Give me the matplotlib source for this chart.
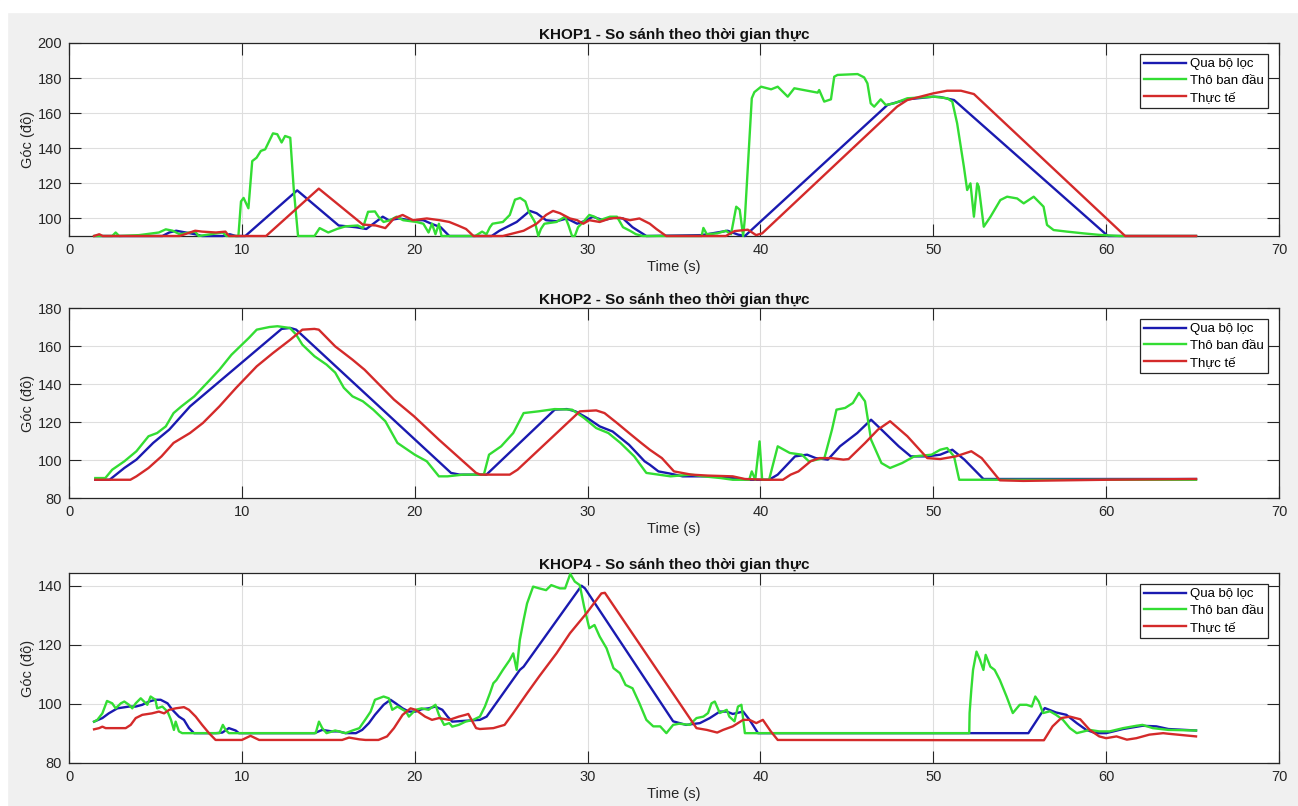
import matplotlib
matplotlib.use("Agg")
import matplotlib.pyplot as plt
from matplotlib.patches import Rectangle

plt.rcParams['font.family'] = ['Liberation Sans', 'DejaVu Sans']

BLUE = '#1a1ab0'
GREEN = '#33dd33'
RED = '#d42a2a'
LABELS = ["Qua bộ lọc", "Thô ban đầu", "Thực tế"]

# ---------------- KHOP1 ----------------
k1_blue_t = [1.5, 5.4, 5.8, 6.2, 6.75, 7.3, 7.7, 8.9, 9.3, 9.65, 10.2, 13.2, 15.6, 16.6, 17.2, 18.15, 18.5,
             19.1, 19.7, 20.5, 20.96, 21.5, 22.0, 24.45, 24.9, 25.9, 26.66, 27.05, 27.6, 28.2, 28.8, 29.4,
             29.95, 30.3, 30.9, 31.5, 32.05, 32.6, 33.4, 36.6, 38.1, 38.7, 39.1, 47.35, 48.5, 50.0, 50.4,
             51.2, 60.1, 65.2]
k1_blue_v = [90, 90, 92, 93, 92, 91, 90, 90, 91, 90, 90, 116, 96, 95, 94, 101, 99,
             100, 99, 99, 97, 95, 90, 90, 93, 98, 104.3, 103, 99, 98.4, 100, 97,
             99, 101, 99, 100.4, 100, 95, 90, 90.5, 93, 90.8, 90, 164.7, 167.9, 169.4, 169.2,
             167.5, 90, 90]

k1_green_t = [1.45, 2.5, 2.7, 2.9, 4.05, 5.2, 5.6, 6.0, 6.4, 7.3, 7.5, 8.9, 9.1, 9.8, 9.95, 10.1, 10.38,
              10.6, 10.85, 11.1, 11.35, 11.58, 11.8, 12.05, 12.3, 12.5, 12.8, 13.0, 13.25, 14.2, 14.5,
              15.0, 15.5, 16.0, 16.7, 17.0, 17.3, 17.7, 17.9, 18.2, 18.57, 18.95, 19.33, 20.1, 20.5,
              20.8, 21.0, 21.2, 21.4, 21.55, 23.5, 23.9, 24.15, 24.35, 24.5, 25.1, 25.5, 25.8, 26.1,
              26.4, 26.6, 26.95, 27.15, 27.3, 27.5, 28.2, 28.7, 28.9, 29.1, 29.26, 29.45, 29.75, 30.1,
              30.4, 30.7, 31.3, 31.7, 32.05, 32.45, 32.8, 33.2, 36.6, 36.7, 36.9, 37.5, 38.0, 38.3,
              38.6, 38.8, 39.0, 39.1, 39.5, 39.65, 40.04, 40.62, 41.0, 41.58, 41.96, 42.73, 43.31,
              43.4, 43.69, 44.08, 44.27, 44.46, 45.62, 46.0, 46.19, 46.38, 46.58, 46.96, 47.25, 47.73,
              48.5, 50.04, 50.8, 51.1, 51.38, 51.77, 51.96, 52.15, 52.35, 52.54, 52.63, 52.92, 53.31,
              53.88, 54.27, 54.85, 55.23, 55.81, 56.38, 56.58, 56.96, 57.73, 58.69, 59.65, 60.8, 65.2]
k1_green_v = [90, 90, 92, 90, 90.5, 92, 93.8, 93, 91, 92.5, 90, 92, 90, 90, 109.7, 111.7, 105.8,
              132.7, 134.6, 138.5, 139.4, 144, 148.5, 148, 143.3, 147, 146, 117, 90, 90, 94.5,
              92, 94, 95.5, 96, 94.5, 103.8, 104, 101, 98, 99, 101, 99, 98, 97,
              92, 97, 91, 97, 90, 90, 92.5, 91, 95, 97, 98, 102, 110.7, 111.7,
              109.7, 103.9, 98, 90, 94, 97, 98, 101, 96, 90, 90, 95, 98, 102,
              101, 99, 101, 101, 95, 93, 91, 90, 90, 94.6, 91, 91.5, 93, 91,
              106.7, 105, 90, 100, 168.5, 172, 175.1, 173.6, 175.1, 169.4, 174.2, 172.8, 171.7,
              173.2, 166.6, 167.9, 180.8, 181.8, 182.3, 180.4, 177, 165.6, 163.7, 167.9, 164.7, 165.6,
              168.5, 169.4, 168.5, 166.6, 154.2, 129.5, 116.2, 120, 101, 120, 118.1, 95.3, 101,
              110.5, 112.4, 111.4, 108.6, 112.4, 106.7, 96.3, 93.4, 92.5, 91.5, 90.6, 90, 90]

k1_red_t = [1.45, 1.75, 1.95, 6.4, 7.3, 7.7, 8.5, 9.05, 9.25, 11.4, 14.45, 17.0, 17.75, 18.3, 18.8, 19.3,
            19.9, 20.7, 21.45, 22.0, 22.5, 22.97, 23.4, 25.1, 26.3, 27.05, 27.6, 28.0, 28.4, 28.98, 29.4,
            29.75, 30.1, 30.7, 31.3, 31.87, 32.45, 33.0, 33.6, 33.98, 34.55, 38.0, 38.5, 39.27, 39.75,
            40.1, 47.9, 48.5, 50.0, 50.8, 51.6, 52.35, 61.1, 65.2]
k1_red_v = [90, 91, 90, 90, 93, 92.5, 92, 92.5, 90, 90, 117, 96.5, 96, 94.5, 100, 102,
            99, 100, 99, 98, 96, 94, 90, 90, 93, 97, 102, 104.3, 103, 100, 99,
            97, 99, 98, 100, 100.4, 99, 100, 97, 94, 90, 90, 92.8, 93.6, 90.5,
            91.5, 163.7, 167.5, 171.3, 172.8, 172.8, 170.9, 90, 90]

# ---------------- KHOP2 ----------------
k2_blue_t = [1.52, 2.35, 3.2, 3.9, 4.87, 5.8, 7.0, 12.3, 12.8, 13.14, 22.1, 22.6, 24.15, 28.1, 28.8, 29.3,
             30.0, 30.7, 31.45, 32.4, 33.3, 33.6, 34.1, 34.8, 35.5, 37.4, 38.4, 39.35, 40.5, 41.0, 42.0,
             42.7, 43.2, 43.9, 44.6, 45.6, 46.4, 47.0, 48.0, 48.7, 49.65, 50.4, 51.1, 51.8, 52.9, 65.2]
k2_blue_v = [89.6, 89.6, 95.8, 100.2, 109, 116, 128.2, 169, 169.5, 168.6, 93.2, 92.3, 92.3, 126.5, 126.8, 125.6,
             122, 117.7, 115, 108, 99.3, 97.5, 94, 92.8, 91.4, 91.4, 90.5, 89.6, 89.6, 92.3, 101.9,
             102.8, 101, 100.2, 107.2, 114.2, 121.2, 116, 107.2, 101.9, 101.9, 102.8, 105.4, 100.2, 90, 90]

k2_green_t = [1.52, 2.1, 2.5, 3.2, 3.9, 4.6, 5.1, 5.6, 6.05, 6.5, 7.25, 7.98, 8.7, 9.4, 9.9, 10.4, 10.86,
              11.6, 12.06, 12.78, 13.14, 13.5, 14.2, 14.9, 15.4, 15.9, 16.4, 17.0, 17.6, 18.3, 19.0,
              20.0, 20.7, 21.4, 21.9, 22.8, 24.0, 24.3, 25.0, 25.7, 26.3, 27.15, 28.1, 29.1, 29.8,
              30.5, 31.2, 31.9, 32.7, 33.4, 34.8, 35.98, 36.7, 37.7, 38.4, 39.35, 39.5, 39.7, 39.95,
              40.1, 40.5, 41.0, 41.7, 42.4, 42.8, 43.7, 44.14, 44.4, 44.9, 45.35, 45.7, 46.05, 46.4,
              47.0, 47.5, 48.2, 48.9, 49.9, 50.4, 50.8, 51.2, 51.5, 65.2]
k2_green_v = [90.5, 90.5, 94.9, 99.3, 104.6, 112.5, 114.2, 117.7, 124.7, 128.2, 133.5, 140.5, 147.5, 155.4,
              159.8, 164.2, 168.6, 170, 170.4, 169.5, 166, 160.7, 154.6, 150.2, 146, 138, 133.5, 130.9,
              126.5, 120.4, 109, 102.8, 99.3, 91.4, 91.4, 92.3, 92.3, 102.8, 107.2, 114.2, 124.7, 125.6,
              126.8, 126.5, 122.1, 116.8, 114.2, 109, 101.9, 93.2, 91.4, 92.3, 91.4, 90.5, 89.6, 89.6,
              94, 89.6, 109.8, 89.6, 89.6, 107.2, 103.7, 102.8, 99.3, 101, 116, 126.5, 127.4, 130,
              135.3, 130.9, 110.7, 98.4, 95.8, 98.4, 101.9, 102.8, 105.4, 106.3, 101.9, 89.6, 89.6]

k2_red_t = [1.52, 3.55, 3.9, 4.6, 5.35, 6.05, 7.0, 7.75, 8.7, 9.66, 10.86, 11.8, 12.8, 13.5, 14.2, 14.45,
            15.4, 16.4, 17.1, 18.8, 19.96, 21.4, 23.55, 23.8, 25.5, 25.95, 29.55, 30.5, 30.98, 31.7,
            32.4, 33.1, 33.6, 34.3, 35.0, 36.0, 36.95, 38.4, 39.1, 40.3, 41.3, 41.75, 42.2, 42.9, 43.4,
            44.1, 44.8, 45.1, 46.06, 46.8, 47.5, 48.5, 49.65, 50.4, 51.3, 52.2, 52.8, 53.85, 55.2,
            57.6, 60.0, 65.2]
k2_red_v = [89.6, 89.6, 91.4, 95.8, 101.9, 109, 114.2, 119.5, 128.2, 137.9, 149.3, 156.3, 163.3, 168.6,
            169, 168.6, 159.8, 152.8, 147.5, 131.8, 123, 110.7, 93.2, 92.3, 92.3, 94.9, 125.6, 126.1,
            124.7, 119.5, 114.2, 109, 105.4, 101, 94, 92.3, 91.8, 91.4, 90, 89.6, 89.6, 92.3, 94,
            99.3, 101, 101, 100.2, 100.5, 109, 116, 120.4, 112.5, 101, 100.5, 101.9, 104.6, 101,
            89.3, 89, 89.3, 89.6, 90]

# ---------------- KHOP4 ----------------
k4_blue_t = [1.45, 1.93, 2.3, 2.8, 3.47, 3.86, 4.24, 4.63, 5.0, 5.3, 5.7, 5.98, 6.36, 6.65, 6.94, 7.23,
             8.5, 8.87, 9.25, 9.64, 9.83, 14.2, 14.65, 15.2, 15.6, 16.0, 16.6, 16.96, 17.35, 17.7, 18.2,
             18.6, 18.9, 19.3, 19.66, 20.05, 20.4, 20.8, 21.2, 21.6, 21.9, 22.17, 23.77, 24.16, 26.08,
             26.3, 29.65, 29.85, 34.95, 35.7, 36.5, 37.07, 37.65, 38.05, 38.4, 39.0, 39.37, 39.86,
             55.5, 56.45, 57.1, 57.7, 58.3, 58.85, 59.4, 60.0, 60.98, 62.1, 62.9, 63.6, 65.2]
k4_blue_v = [94, 95.2, 96.8, 98.5, 99.1, 99.1, 99.7, 100.8, 101.4, 101.4, 100.2, 98, 95.7, 94.6, 91.8, 90.1,
             90.1, 90.3, 91.8, 91, 90.1, 90.1, 91.2, 90.7, 90.7, 90.1, 90.1, 91.2, 93.5, 96.3, 99.7,
             101.4, 100.2, 98.5, 97.4, 97.4, 98.2, 98.5, 99.1, 98, 95.7, 94, 94.6, 95.7, 111.5,
             112.6, 140, 139.1, 94.1, 92.9, 93.5, 95.2, 97.4, 97.4, 96.6, 97.4, 94.6, 90.1,
             90.1, 98.6, 97.1, 96.3, 93.5, 91.2, 90.1, 90.1, 91.5, 92.6, 92.4, 91.5, 91]

k4_green_t = [1.45, 1.64, 1.93, 2.2, 2.5, 2.7, 3.0, 3.2, 3.47, 3.66, 3.86, 4.15, 4.34, 4.53, 4.72, 5.0,
              5.1, 5.4, 5.7, 5.9, 6.07, 6.17, 6.36, 6.55, 8.7, 8.9, 9.06, 9.25, 14.27, 14.46, 14.65,
              14.9, 15.4, 16.0, 16.4, 16.8, 17.2, 17.45, 17.7, 18.2, 18.5, 18.7, 19.0, 19.5, 19.66,
              20.05, 20.4, 20.8, 21.2, 21.4, 21.7, 22.0, 22.17, 22.55, 22.94, 23.38, 23.77, 24.06,
              24.35, 24.55, 24.73, 25.1, 25.5, 25.7, 25.9, 26.08, 26.3, 26.5, 26.85, 27.2, 27.6,
              27.9, 28.4, 28.7, 29.0, 29.26, 29.55, 29.8, 30.1, 30.4, 30.7, 31.1, 31.5, 31.87, 32.2,
              32.6, 33.0, 33.4, 33.8, 34.2, 34.56, 34.95, 35.3, 35.9, 36.3, 36.7, 36.97, 37.17,
              37.36, 37.65, 38.05, 38.2, 38.5, 38.7, 38.9, 39.1, 52.08, 52.1, 52.2, 52.3, 52.5,
              52.7, 52.9, 53.03, 53.3, 53.55, 53.85, 54.24, 54.6, 55.0, 55.4, 55.7, 55.9, 56.1,
              56.35, 56.75, 57.1, 57.5, 57.9, 58.3, 58.7, 59.05, 59.6, 60.2, 60.98, 61.75, 62.1,
              62.7, 63.6, 65.2]
k4_green_v = [94, 94.6, 96.8, 101, 100.2, 98.5, 100.2, 100.8, 99.7, 98.5, 100.2, 101.9, 100.8, 99.7, 102.5, 101.4,
              98.5, 99.1, 97.4, 94.6, 91.2, 94, 90.7, 90.1, 90.1, 92.9, 91.2, 90.1, 90.1, 94, 91.8,
              90.1, 91, 90.1, 91, 91.8, 95.2, 97.4, 101.4, 102.5, 101.9, 98, 99.1, 97.4, 95.7,
              98, 98.5, 98, 99.7, 96.3, 92.9, 93.5, 92.3, 92.9, 94, 94.6, 95.7, 99.1,
              103.6, 107, 108.1, 111.5, 114.9, 117.1, 111.5, 121.6, 128.4, 134, 139.7, 139.1, 138.5,
              140.2, 139.1, 139.1, 144, 141.4, 140.2, 132.9, 125.6, 126.7, 122.8, 118.8, 112.1, 110.4, 106.4,
              105.3, 100.2, 94.6, 92.4, 92.4, 90.1, 92.9, 93.3, 92.9, 95.2, 95.7, 96.9, 100.2,
              100.8, 96.9, 98, 95.7, 94.1, 99.1, 99.7, 90.1, 90.1, 96.9, 104.8, 111.5, 117.7,
              114.9, 111.5, 116.6, 112.6, 111.5, 108.1, 102.5, 96.9, 99.7, 99.7, 99.1, 102.5, 100.8,
              96.9, 97.5, 96.3, 94.6, 91.8, 90.1, 90.7, 91.2, 90.7, 90.7, 91.8, 92.6, 92.9,
              91.8, 91.2, 91]

k4_red_t = [1.45, 1.74, 1.93, 2.12, 3.28, 3.57, 3.86, 4.24, 4.8, 5.2, 5.5, 5.8, 6.17, 6.65, 6.94, 7.33,
            7.7, 8.1, 8.48, 10.0, 10.5, 11.0, 15.8, 16.2, 16.8, 17.15, 17.9, 18.4, 18.8, 19.3, 19.76,
            20.05, 20.6, 21.0, 21.4, 22.0, 22.55, 22.94, 23.1, 23.55, 23.77, 24.55, 25.2, 25.7, 26.5,
            27.2, 28.2, 28.98, 29.94, 30.8, 31.0, 36.3, 36.9, 37.5, 37.84, 38.4, 39.0, 39.37, 39.76,
            40.14, 40.6, 41.0, 56.4, 56.9, 57.4, 57.9, 58.5, 59.05, 59.6, 60.0, 60.6, 61.2, 61.75,
            62.5, 63.3, 63.6, 65.2]
k4_red_v = [91.4, 91.8, 92.3, 91.8, 91.8, 92.9, 95.2, 96.3, 96.8, 97.4, 96.8, 98, 98.5, 98.9, 98, 95.7,
            92.9, 90.1, 87.8, 87.8, 89.2, 87.8, 87.8, 88.6, 88, 87.8, 87.8, 89, 91.8, 96.3, 98.5,
            98, 95.7, 94.6, 95.2, 94.6, 95.7, 96.3, 96.6, 91.8, 91.5, 91.8, 92.9, 96.9, 103.6,
            109.3, 117.1, 123.9, 130.7, 137.4, 137.6, 91.8, 91.2, 90.3, 91.2, 92.4, 94.6, 94.6, 93.5,
            94.6, 90.7, 87.8, 87.7, 92.4, 95.2, 95.7, 94.8, 91.2, 89, 88.4, 89, 87.9, 88.4,
            89.6, 90.1, 89.9, 89]

panels = [
    ("KHOP1 - So sánh theo thời gian thực", (90, 200), [100, 120, 140, 160, 180, 200],
     (k1_blue_t, k1_blue_v), (k1_green_t, k1_green_v), (k1_red_t, k1_red_v)),
    ("KHOP2 - So sánh theo thời gian thực", (80, 180), [80, 100, 120, 140, 160, 180],
     (k2_blue_t, k2_blue_v), (k2_green_t, k2_green_v), (k2_red_t, k2_red_v)),
    ("KHOP4 - So sánh theo thời gian thực", (80, 144.3), [80, 100, 120, 140],
     (k4_blue_t, k4_blue_v), (k4_green_t, k4_green_v), (k4_red_t, k4_red_v)),
]

W, H = 1298, 806
fig = plt.figure(figsize=(W / 100, H / 100), dpi=100, facecolor='#f0f0f0')
# white strips of the screenshot border
fig.add_artist(Rectangle((0, 1 - 12 / H), 1, 12 / H, transform=fig.transFigure, color='white', zorder=0))
fig.add_artist(Rectangle((0, 0), 7 / W, 1, transform=fig.transFigure, color='white', zorder=0))

# axes boxes in pixels: (top, bottom)
boxes = [(43, 236), (308, 498), (573, 763)]
left, right = 69, 1279

for (title, ylim, yt, b, g, r), (top, bot) in zip(panels, boxes):
    ax = fig.add_axes([left / W, (H - bot) / H, (right - left) / W, (bot - top) / H])
    ax.plot(b[0], b[1], color=BLUE, lw=1.7, label=LABELS[0], zorder=3, clip_on=False)
    ax.plot(g[0], g[1], color=GREEN, lw=1.7, label=LABELS[1], zorder=3, clip_on=False)
    ax.plot(r[0], r[1], color=RED, lw=1.7, label=LABELS[2], zorder=3, clip_on=False)
    ax.set_xlim(0, 70)
    ax.set_ylim(*ylim)
    ax.set_xticks(range(0, 71, 10))
    ax.set_yticks(yt)
    ax.grid(True, color='#dedede', lw=0.8)
    ax.set_axisbelow(True)
    ax.tick_params(direction='in', length=8.5, width=0.8, top=True, right=True,
                   labelsize=10.5, colors='#262626', pad=5)
    for s in ax.spines.values():
        s.set_color('#262626')
        s.set_linewidth(0.9)
    ax.set_title(title, fontsize=11, fontweight='bold', pad=3, color='#111111')
    ax.set_xlabel("Time (s)", fontsize=10.5, color='#262626', labelpad=2)
    ax.set_ylabel("Góc (độ)", fontsize=10.5, color='#262626', labelpad=2)
    h = bot - top
    leg = ax.legend(loc='upper right', bbox_to_anchor=(1 - 11 / (right - left), 1 - 11 / h),
                    borderaxespad=0, fontsize=9.5, fancybox=False, framealpha=1,
                    edgecolor='#262626', handlelength=3.2, handletextpad=0.3,
                    labelspacing=0.35, borderpad=0.3)
    leg.get_frame().set_linewidth(0.9)

fig.savefig("out.png", dpi=100, facecolor=fig.get_facecolor())
